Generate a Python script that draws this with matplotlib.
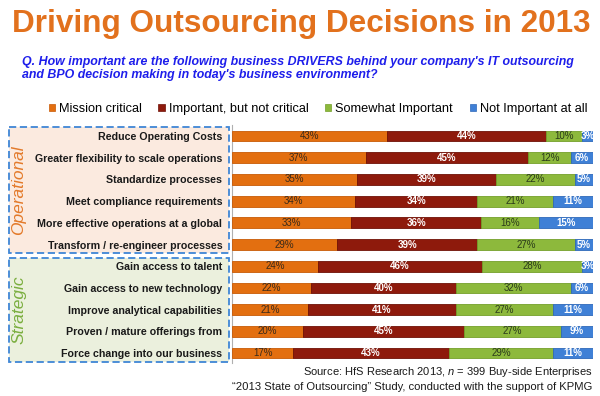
import matplotlib
matplotlib.use("Agg")
import matplotlib.pyplot as plt
import matplotlib.transforms as mtransforms
from matplotlib.patches import Rectangle, Patch
import numpy as np

plt.rcParams['font.family'] = ['Liberation Sans', 'DejaVu Sans']
plt.rcParams['mathtext.fontset'] = 'custom'
plt.rcParams['mathtext.it'] = 'Liberation Sans:italic'
plt.rcParams['mathtext.rm'] = 'Liberation Sans'

drivers = ["Reduce Operating Costs",
           "Greater flexibility to scale operations",
           "Standardize processes",
           "Meet compliance requirements",
           "More effective operations at a global",
           "Transform / re-engineer processes",
           "Gain access to talent",
           "Gain access to new technology",
           "Improve analytical capabilities",
           "Proven / mature offerings from",
           "Force change into our business"]
series_names = ["Mission critical", "Important, but not critical",
                "Somewhat Important", "Not Important at all"]
mission = [43, 37, 35, 34, 33, 29, 24, 22, 21, 20, 17]
important = [44, 45, 39, 34, 36, 39, 46, 40, 41, 45, 43]
somewhat = [10, 12, 22, 21, 16, 27, 28, 32, 27, 27, 29]
not_imp = [3, 6, 5, 11, 15, 5, 3, 6, 11, 9, 11]
groups = ["Operational", "Strategic"]
group_rows = [(0, 5), (6, 10)]

colors = ["#E36F10", "#8E1A0C", "#8DB93C", "#3F80D6"]
edge_colors = ["#C85A05", "#6E1006", "#74A02A", "#2E68B8"]
label_colors = ["#3A2A1A", "white", "#2A3A1A", "white"]
box_fills = ["#FBEADF", "#EBF0DD"]
group_colors = ["#E37A2A", "#7AAE3E"]

fig = plt.figure(figsize=(6, 3.96), dpi=100)
ax = fig.add_axes([232 / 600, 1 - 363 / 396, 361 / 600, 238 / 396])

data = np.array([mission, important, somewhat, not_imp], dtype=float)
shares = data / data.sum(axis=0) * 100
y = np.arange(len(drivers))
left = np.zeros(len(drivers))
for i in range(4):
    ax.barh(y, shares[i], left=left, height=0.5, color=colors[i],
            edgecolor=edge_colors[i], linewidth=0.6, zorder=3)
    for j in range(len(drivers)):
        ax.text(left[j] + shares[i][j] / 2, y[j], "%d%%" % data[i][j],
                ha="center", va="center", fontsize=7,
                color=label_colors[i],
                fontweight="bold" if label_colors[i] == "white" else "normal",
                zorder=4)
    left += shares[i]

ax.set_xlim(0, 100)
ax.set_ylim(10.46, -0.51)
ax.set_yticks(y)
ax.set_yticklabels(drivers, fontsize=7.7, fontweight="bold", color="#1A1A1A")
ax.tick_params(axis="y", length=0, pad=7)
ax.set_xticks([])
for s in ["top", "right", "bottom"]:
    ax.spines[s].set_visible(False)
ax.spines["left"].set_color("#B0B0B0")
ax.spines["left"].set_linewidth(0.8)
ax.set_facecolor("none")

# dashed group boxes to the left of the bars
trans = mtransforms.blended_transform_factory(fig.transFigure, ax.transData)
for k, (r0, r1) in enumerate(group_rows):
    top = r0 - 0.41 if k == 0 else r0 - 0.37
    bottom = r1 + 0.41
    ax.add_patch(Rectangle((9 / 600, top), 220 / 600, bottom - top,
                           transform=trans, facecolor=box_fills[k],
                           edgecolor="#3F86D6", linewidth=1.3,
                           linestyle=(0, (4, 2)), clip_on=False, zorder=0))
    ax.text(19 / 600, (r0 + r1) / 2, groups[k], transform=trans,
            rotation=90, ha="center", va="center", fontsize=12.5,
            style="italic", color=group_colors[k], zorder=1)

fig.text(0.502, 1 - 32 / 396, "Driving Outsourcing Decisions in 2013",
         ha="center", va="baseline", fontsize=22.7, fontweight="bold",
         color="#E2711D")
fig.text(22 / 600, 1 - 65 / 396,
         "Q. How important are the following business DRIVERS behind your company's IT outsourcing",
         ha="left", va="baseline", fontsize=8.9, fontweight="bold",
         style="italic", color="#1E1EEB")
fig.text(22 / 600, 1 - 78 / 396,
         "and BPO decision making in today's business environment?",
         ha="left", va="baseline", fontsize=8.9, fontweight="bold",
         style="italic", color="#1E1EEB")

handles = [Patch(facecolor=colors[i], edgecolor=edge_colors[i], linewidth=0.5)
           for i in range(4)]
fig.legend(handles, series_names, loc="center",
           bbox_to_anchor=(318 / 600, 1 - 109 / 396), ncol=4, frameon=False,
           fontsize=9.2, handlelength=0.5, handleheight=0.5,
           handletextpad=0.3, columnspacing=1.3, borderaxespad=0)

fig.text(592 / 600, 1 - 372 / 396,
         r"Source: HfS Research 2013, $n$ = 399 Buy-side Enterprises",
         ha="right", va="center", fontsize=8.0, color="#1A1A1A")
fig.text(592 / 600, 1 - 387 / 396,
         "\u201c2013 State of Outsourcing\u201d Study, conducted with the support of KPMG",
         ha="right", va="center", fontsize=8.1, color="#1A1A1A")

fig.savefig("out.png", dpi=100)
